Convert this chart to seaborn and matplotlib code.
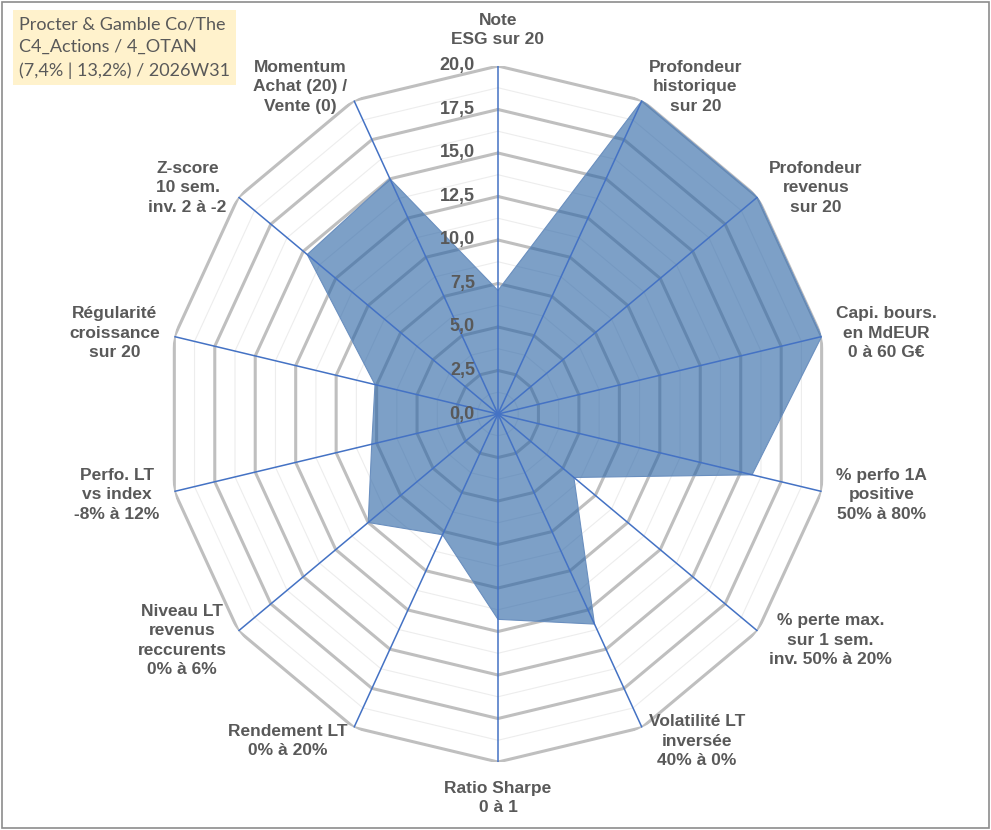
import numpy as np
import pandas as pd
import matplotlib.pyplot as plt
import seaborn as sns
from matplotlib.patches import Rectangle

# Axis labels (clockwise from the top)
categories = [
    "Note\nESG sur 20",
    "Profondeur\nhistorique\nsur 20",
    "Profondeur\nrevenus\nsur 20",
    "Capi. bours.\nen MdEUR\n0 à 60 G€",
    "% perfo 1A\npositive\n50% à 80%",
    "% perte max.\nsur 1 sem.\ninv. 50% à 20%",
    "Volatilité LT\ninversée\n40% à 0%",
    "Ratio Sharpe\n0 à 1",
    "Rendement LT\n0% à 20%",
    "Niveau LT\nrevenus\nreccurents\n0% à 6%",
    "Perfo. LT\nvs index\n-8% à 12%",
    "Régularité\ncroissance\nsur 20",
    "Z-score\n10 sem.\ninv. 2 à -2",
    "Momentum\nAchat (20) /\nVente (0)",
]
scores = [7.1, 20.0, 20.0, 20.0, 15.7, 5.85, 13.4, 11.8, 7.7, 10.0, 7.8, 7.6, 14.7, 15.0]
major_levels = [2.5, 5.0, 7.5, 10.0, 12.5, 15.0, 17.5, 20.0]
minor_levels = [1.25, 3.75, 6.25, 8.75, 11.25, 13.75, 16.25, 18.75]
tick_values = [0.0, 2.5, 5.0, 7.5, 10.0, 12.5, 15.0, 17.5, 20.0]
title_lines = ["Procter & Gamble Co/The", "C4_Actions / 4_OTAN", "(7,4% | 13,2%) / 2026W31"]

sns.set_theme(style="white")
plt.rcParams['font.family'] = ['Liberation Sans', 'DejaVu Sans']

GREY_TXT = '#595959'
SPOKE = '#4472C4'

n = len(categories)
theta = np.linspace(0, 2 * np.pi, n, endpoint=False)
theta_closed = np.append(theta, theta[0])

fig = plt.figure(figsize=(9.91, 8.30), dpi=100)
ax = fig.add_axes([0.1675, 0.0819, 0.670, 0.8386], projection='polar')
ax.set_aspect('auto')
ax.set_theta_zero_location('N')
ax.set_theta_direction(-1)
ax.set_ylim(0, 20)
ax.grid(False)
ax.set_xticks([])
ax.set_yticks([])
ax.spines['polar'].set_visible(False)
ax.patch.set_alpha(0)

# polygon gridlines
for lvl in minor_levels:
    ax.plot(theta_closed, [lvl] * (n + 1), color='#EDEDED', lw=0.8, zorder=1)
for lvl in major_levels:
    ax.plot(theta_closed, [lvl] * (n + 1), color='#BFBFBF', lw=2.2, zorder=1,
            solid_joinstyle='miter')

# series area
vals_closed = np.append(scores, scores[0])
ax.fill(theta_closed, vals_closed, color='#2D66A6', alpha=0.62, lw=0, zorder=2)
edge = pd.DataFrame({"theta": theta_closed, "score": vals_closed})
sns.lineplot(data=edge, x="theta", y="score", sort=False, estimator=None,
             color='#6A8FBF', lw=0.8, ax=ax, zorder=2)
ax.set_xlabel('')
ax.set_ylabel('')

# spokes
for t in theta:
    ax.plot([t, t], [0, 20], color=SPOKE, lw=1.1, zorder=3)

# value labels on the top axis
for v in tick_values:
    ax.annotate(f"{v:.1f}".replace('.', ','), xy=(0, v), xytext=(-23, 0),
                textcoords='offset pixels', ha='right', va='center',
                fontsize=13, fontweight='bold', color=GREY_TXT, zorder=5)

# category labels
for t, lab in zip(theta, categories):
    s, c = np.sin(t), np.cos(t)
    if abs(s) < 0.1:
        ha = 'center'
        va = 'bottom' if c > 0 else 'top'
        off = 19
    else:
        ha = 'left' if s > 0 else 'right'
        va = 'center'
        off = 15
    ax.annotate(lab, xy=(t, 20), xytext=(off * s, off * c),
                textcoords='offset pixels', ha=ha, va=va,
                multialignment='center', linespacing=1.37,
                fontsize=12.5, fontweight='bold', color=GREY_TXT)

# title box
fig.text(19 / 991, 1 - 16 / 830, "\n".join(title_lines), ha='left', va='top',
         fontsize=13, color=GREY_TXT, family=['Lato', 'DejaVu Sans'],
         linespacing=1.55,
         bbox=dict(facecolor='#FFF2CC', edgecolor='none', pad=4.5))

# chart border
fig.patches.append(Rectangle((0.002, 0.003), 0.996, 0.994, transform=fig.transFigure,
                             fill=False, edgecolor='#8C8C8C', lw=1.2))

fig.savefig('out.png', dpi=100, facecolor='white')
